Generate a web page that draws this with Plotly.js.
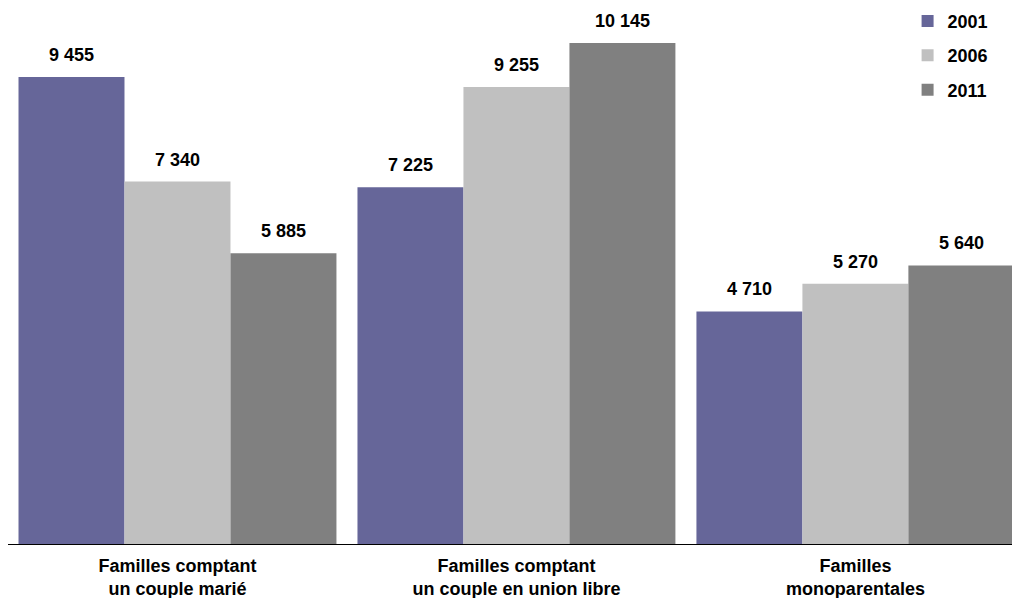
<!DOCTYPE html>
<html><head><meta charset="utf-8">
<script src="https://cdn.plot.ly/plotly-3.0.1.min.js"></script>
<style>body{margin:0;background:#fff}#c{width:1012px;height:598px}</style>
</head><body><div id="c"></div>
<script>
const categories = ["Familles comptant<br>un couple marié", "Familles comptant<br>un couple en union libre", "Familles<br>monoparentales"];
const years = ["2001", "2006", "2011"];
const v2001 = [9455, 7225, 4710];
const v2006 = [7340, 9255, 5270];
const v2011 = [5885, 10145, 5640];
const colors = ["#666699", "#C0C0C0", "#808080"];

const series = [v2001, v2006, v2011];
const bargap = 0.062;
const fmt = n => String(n).replace(/\B(?=(\d{3})+(?!\d))/g, " ");
const idx = categories.map((_, i) => i);

const traces = series.map((vals, i) => ({
  type: "bar", name: years[i], x: idx, y: vals,
  marker: {color: colors[i], line: {width: 0}},
  legendgroup: years[i], hoverinfo: "none"
}));

const w = (1 - bargap) / 3;
const annotations = [];
series.forEach((vals, i) => vals.forEach((v, c) => {
  annotations.push({x: c + (i - 1) * w, y: v, xref: "x", yref: "y", text: "<b>" + fmt(v) + "</b>",
    showarrow: false, yshift: 22, yanchor: "middle", font: {family: "Liberation Sans, Arial", size: 18, color: "#000"}});
}));

const layout = {
  width: 1012, height: 598,
  margin: {l: 8, r: 0, t: 0, b: 54},
  paper_bgcolor: "#fff", plot_bgcolor: "#fff",
  barmode: "group", bargap: bargap, bargroupgap: 0,
  font: {family: "Liberation Sans, Arial", size: 18, color: "#000"},
  xaxis: {type: "linear", range: [-0.5, 2.462], tickvals: idx, ticktext: categories.map(s => "<b>" + s.replace("<br>", "</b><br><b>") + "</b>"),
    showline: true, linecolor: "#000", linewidth: 1, ticks: "", showgrid: false, zeroline: false,
    ticklabelstandoff: 5, tickfont: {size: 18, color: "#000"}, fixedrange: true},
  yaxis: {range: [0, 11015], visible: false, showgrid: false, zeroline: false},
  showlegend: true,
  legend: {x: 0.896, y: 0.995, xanchor: "left", yanchor: "top", tracegroupgap: 8,
    font: {size: 18, color: "#000", weight: "bold"}, bgcolor: "rgba(0,0,0,0)"},
  annotations: annotations
};
Plotly.newPlot("c", traces, layout, {displayModeBar: false, staticPlot: true});
</script></body></html>
